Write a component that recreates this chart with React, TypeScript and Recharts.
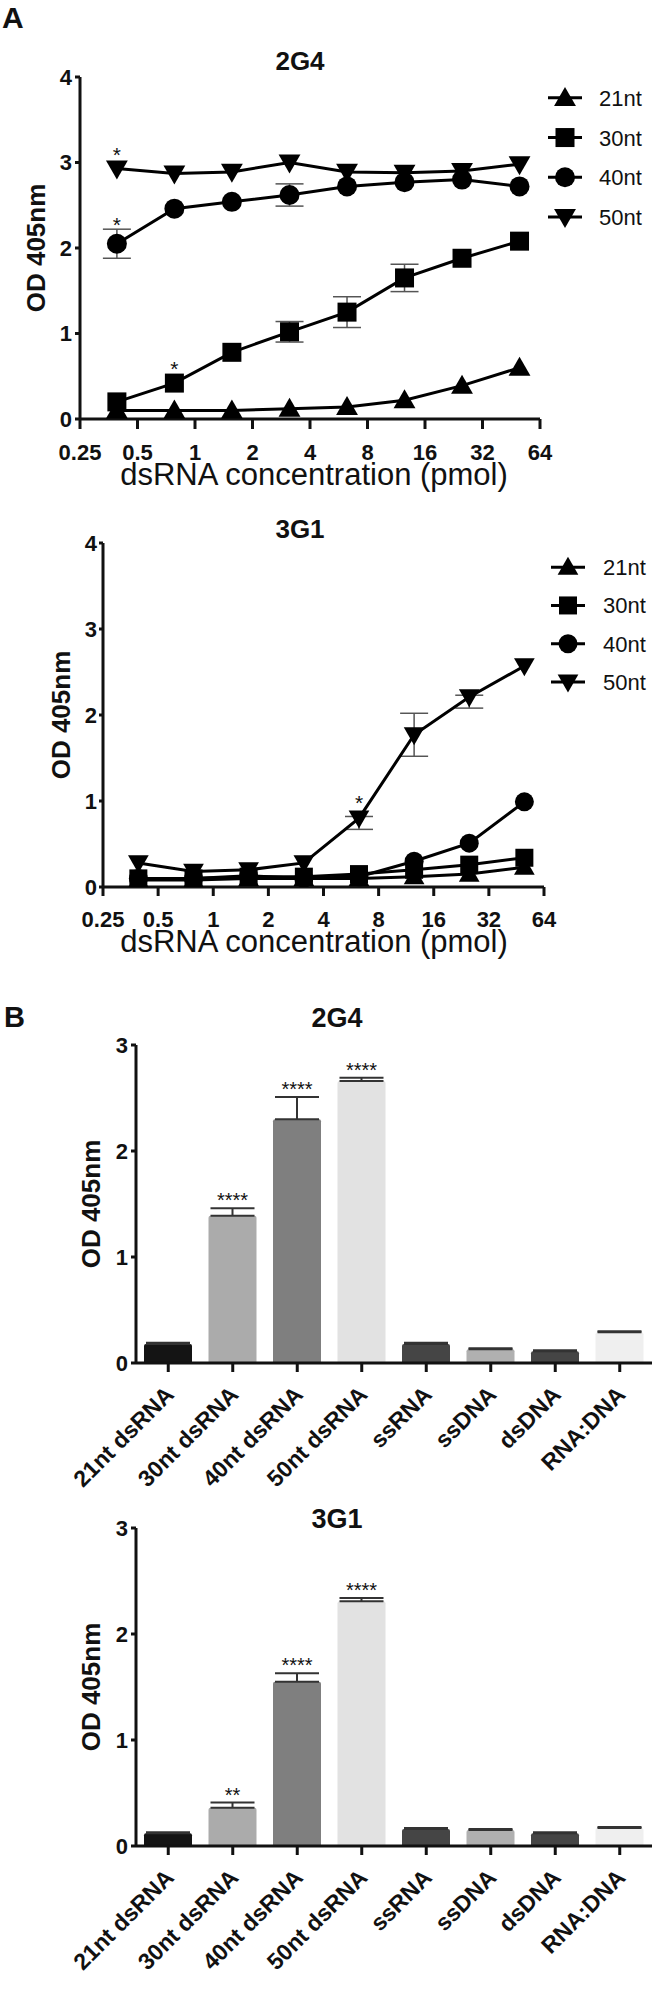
import React from 'react';
import { LineChart, Line, XAxis, YAxis, ErrorBar, LabelList, BarChart, Bar, Cell } from 'recharts';

const FONT = "'Liberation Sans', Arial, Helvetica, sans-serif";
const INK = '#111';

// ---------- Panel A data ----------
const concentrations = [0.39, 0.78, 1.56, 3.125, 6.25, 12.5, 25, 50];
const concTicks = [0.25, 0.5, 1, 2, 4, 8, 16, 32, 64];
const odTicksA = [0, 1, 2, 3, 4];
const seriesNames = ['21nt', '30nt', '40nt', '50nt'];

// 2G4
const g4_21 = [0.1, 0.1, 0.1, 0.12, 0.14, 0.22, 0.39, 0.6];
const g4_30 = [0.2, 0.42, 0.78, 1.02, 1.25, 1.65, 1.88, 2.08];
const g4_40 = [2.05, 2.46, 2.54, 2.62, 2.72, 2.77, 2.8, 2.72];
const g4_50 = [2.93, 2.87, 2.89, 3.0, 2.89, 2.88, 2.9, 2.98];
const g4_21err = [0, 0, 0, 0, 0, 0, 0, 0];
const g4_30err = [0, 0, 0, 0.12, 0.18, 0.16, 0, 0];
const g4_40err = [0.17, 0, 0, 0.13, 0, 0, 0, 0];
const g4_50err = [0, 0, 0, 0, 0, 0, 0, 0];
const g4_21sig = ['', '', '', '', '', '', '', ''];
const g4_30sig = ['', '*', '', '', '', '', '', ''];
const g4_40sig = ['*', '', '', '', '', '', '', ''];
const g4_50sig = ['*', '', '', '', '', '', '', ''];

// 3G1
const g1_21 = [0.08, 0.08, 0.1, 0.1, 0.1, 0.12, 0.15, 0.23];
const g1_30 = [0.1, 0.1, 0.12, 0.12, 0.15, 0.2, 0.26, 0.34];
const g1_40 = [0.1, 0.1, 0.13, 0.1, 0.12, 0.3, 0.51, 0.99];
const g1_50 = [0.28, 0.18, 0.2, 0.28, 0.8, 1.77, 2.21, 2.57];
const g1_21err = [0, 0, 0, 0, 0, 0, 0, 0];
const g1_30err = [0, 0, 0, 0, 0, 0, 0, 0];
const g1_40err = [0, 0, 0, 0, 0, 0, 0, 0];
const g1_50err: (number | number[])[] = [0, 0, 0, 0, [0.13, 0.02], 0.25, [0.13, 0.02], 0];
const g1_21sig = ['', '', '', '', '', '', '', ''];
const g1_30sig = ['', '', '', '', '', '', '', ''];
const g1_40sig = ['', '', '', '', '', '', '', ''];
const g1_50sig = ['', '', '', '', '*', '', '', ''];

// ---------- Panel B data ----------
const nucleicAcids = ['21nt dsRNA', '30nt dsRNA', '40nt dsRNA', '50nt dsRNA', 'ssRNA', 'ssDNA', 'dsDNA', 'RNA:DNA'];
const odTicksB = [0, 1, 2, 3];
const barColors = ['#141414', '#ababab', '#7f7f7f', '#e2e2e2', '#454545', '#b0b0b0', '#454545', '#efefef'];
const b2g4 = [0.18, 1.39, 2.3, 2.66, 0.18, 0.13, 0.11, 0.29];
const b2g4err = [0.01, 0.07, 0.21, 0.03, 0.01, 0.01, 0.01, 0.01];
const b2g4sig = ['', '****', '****', '****', '', '', '', ''];
const b3g1 = [0.12, 0.36, 1.55, 2.31, 0.16, 0.15, 0.12, 0.17];
const b3g1err = [0.01, 0.05, 0.08, 0.03, 0.01, 0.01, 0.01, 0.01];
const b3g1sig = ['', '**', '****', '****', '', '', '', ''];

// ---------- helpers ----------
const KEYS = ['s21', 's30', 's40', 's50'];
const SHAPES = ['up', 'square', 'circle', 'down'];
const DRAW_ORDER = [0, 2, 3, 1];

function buildLineRows(vals: number[][], errs: any[][], sigs: string[][]) {
  return concentrations.map((x, i) => {
    const r: any = { x };
    KEYS.forEach((k, j) => {
      r[k] = vals[j][i];
      const e = errs[j][i];
      r['e' + k] = e === 0 ? undefined : e;
      r['k' + k] = sigs[j][i];
    });
    return r;
  });
}

function buildBarRows(vals: number[], errs: number[], sigs: string[]) {
  return nucleicAcids.map((c, i) => ({ cat: c, v: vals[i], err: [0, errs[i]], sig: sigs[i] }));
}

const rows2G4 = buildLineRows([g4_21, g4_30, g4_40, g4_50], [g4_21err, g4_30err, g4_40err, g4_50err], [g4_21sig, g4_30sig, g4_40sig, g4_50sig]);
const rows3G1 = buildLineRows([g1_21, g1_30, g1_40, g1_50], [g1_21err, g1_30err, g1_40err, g1_50err], [g1_21sig, g1_30sig, g1_40sig, g1_50sig]);
const bars2G4 = buildBarRows(b2g4, b2g4err, b2g4sig);
const bars3G1 = buildBarRows(b3g1, b3g1err, b3g1sig);

function Marker({ shape, cx, cy, s }: any) {
  if (cx == null || cy == null || isNaN(cx) || isNaN(cy)) return null;
  const h = s / 2;
  if (shape === 'up')
    return <polygon points={`${cx},${cy - h * 1.15} ${cx - h * 1.15},${cy + h * 0.85} ${cx + h * 1.15},${cy + h * 0.85}`} fill="#000" />;
  if (shape === 'square') return <rect x={cx - h} y={cy - h} width={s} height={s} fill="#000" />;
  if (shape === 'circle') return <circle cx={cx} cy={cy} r={h + 0.5} fill="#000" />;
  return <polygon points={`${cx - h * 1.15},${cy - h * 0.85} ${cx + h * 1.15},${cy - h * 0.85} ${cx},${cy + h * 1.15}`} fill="#000" />;
}

const lineStar = (lift: number) => (p: any) => {
  if (!p.value) return null;
  const vb = p.viewBox || {};
  const x = vb.x ?? p.x;
  const y = vb.y ?? p.y;
  return (
    <text x={x} y={y - lift} textAnchor="middle" fontSize={21} fontFamily={FONT} fill={INK}>
      {p.value}
    </text>
  );
};

const barStars = (vals: number[], errs: number[]) => (p: any) => {
  if (!p.value) return null;
  const vb = p.viewBox || p;
  const i = p.index;
  const h = Math.abs(vb.height);
  const top = Math.min(vb.y, vb.y + vb.height);
  const pxPerUnit = h / vals[i];
  const errTop = top - errs[i] * pxPerUnit;
  return (
    <text x={vb.x + vb.width / 2} y={errTop - 1} textAnchor="middle" fontSize={20} fontFamily={FONT} fill={INK}>
      {p.value}
    </text>
  );
};

const yTitle = (bx: number, size: number) => (p: any) => {
  const vb = p.viewBox;
  const cy = vb.y + vb.height / 2;
  return (
    <text x={bx} y={cy} transform={`rotate(-90, ${bx}, ${cy})`} textAnchor="middle" fontSize={size} fontWeight={700} fontFamily={FONT} fill={INK}>
      OD 405nm
    </text>
  );
};

const xTitle = (cx: number, baseline: number) => () => (
  <text x={cx} y={baseline} textAnchor="middle" fontSize={31} fontFamily={FONT} fill={INK}>
    dsRNA concentration (pmol)
  </text>
);

const axisStroke = { stroke: INK, strokeWidth: 3 };
const tickFont = { fontSize: 22, fontWeight: 700, fill: INK, fontFamily: FONT };

function DoseChart(props: any) {
  const { top, height, rows, plotTop, yAxisW, rightMargin, xAxisH, tickMarginX, tickSizeX, tickSizeY, tickMarginY, yTitleX, xTitleBaseline, markerSize, lifts } = props;
  return (
    <div style={{ position: 'absolute', left: 0, top }}>
      <LineChart width={668} height={height} data={rows} margin={{ top: plotTop, right: rightMargin, bottom: 0, left: 0 }}>
        <XAxis
          dataKey="x"
          type="number"
          scale="log"
          domain={[0.25, 64]}
          ticks={concTicks}
          allowDataOverflow
          height={xAxisH}
          tick={tickFont}
          tickSize={tickSizeX}
          tickMargin={tickMarginX}
          axisLine={axisStroke}
          tickLine={axisStroke}
          tickFormatter={(v: number) => String(v)}
          interval={0}
          label={xTitle(314, xTitleBaseline)}
        />
        <YAxis
          type="number"
          domain={[0, 4]}
          ticks={odTicksA}
          width={yAxisW}
          tick={tickFont}
          tickSize={tickSizeY}
          tickMargin={tickMarginY}
          axisLine={axisStroke}
          tickLine={axisStroke}
          allowDataOverflow
          label={yTitle(yTitleX, 26)}
        />
        {DRAW_ORDER.map((j) => (
          <Line
            key={KEYS[j]}
            dataKey={KEYS[j]}
            name={seriesNames[j]}
            type="linear"
            stroke="#000"
            strokeWidth={3}
            isAnimationActive={false}
            dot={(p: any) => <Marker key={`${KEYS[j]}-${p.index}`} shape={SHAPES[j]} cx={p.cx} cy={p.cy} s={markerSize} />}
            activeDot={false}
          >
            <ErrorBar dataKey={'e' + KEYS[j]} direction="y" width={14} stroke="#555" strokeWidth={1.5} />
            <LabelList dataKey={'k' + KEYS[j]} content={lineStar(lifts[j])} />
          </Line>
        ))}
      </LineChart>
    </div>
  );
}

function SeriesLegend({ left, top, gap, textX, size }: any) {
  return (
    <svg style={{ position: 'absolute', left, top }} width={120} height={gap * 4}>
      {seriesNames.map((n, i) => {
        const cy = gap / 2 + i * gap;
        return (
          <g key={n}>
            <line x1={3} x2={37} y1={cy} y2={cy} stroke="#000" strokeWidth={3} />
            <Marker shape={SHAPES[i]} cx={20} cy={cy} s={size} />
            <text x={textX} y={cy + 8} fontSize={22} fontFamily={FONT} fill={INK}>
              {n}
            </text>
          </g>
        );
      })}
    </svg>
  );
}

const RotTick = (p: any) => {
  const x = p.x + 7;
  const y = p.y + 22;
  return (
    <text x={x} y={y} textAnchor="end" transform={`rotate(-45, ${x}, ${y})`} fontSize={23} fontWeight={700} fontFamily={FONT} fill={INK}>
      {p.payload.value}
    </text>
  );
};

function SpecChart({ top, height, rows, vals, errs, plotTop, xAxisH }: any) {
  return (
    <div style={{ position: 'absolute', left: 0, top }}>
      <BarChart width={668} height={height} data={rows} margin={{ top: plotTop, right: 16, bottom: 0, left: 0 }}>
        <XAxis
          dataKey="cat"
          type="category"
          height={xAxisH}
          interval={0}
          tick={<RotTick />}
          tickSize={9}
          tickMargin={2}
          axisLine={axisStroke}
          tickLine={axisStroke}
        />
        <YAxis
          type="number"
          domain={[0, 3]}
          ticks={odTicksB}
          width={136}
          tick={tickFont}
          tickSize={5}
          tickMargin={3}
          axisLine={axisStroke}
          tickLine={axisStroke}
          allowDataOverflow
          label={yTitle(100, 26)}
        />
        <Bar dataKey="v" barSize={48} isAnimationActive={false} radius={[2, 2, 0, 0]}>
          {rows.map((r: any, i: number) => (
            <Cell key={r.cat} fill={barColors[i]} />
          ))}
          <ErrorBar dataKey="err" direction="y" width={22} stroke="#333" strokeWidth={2} />
          <LabelList dataKey="sig" content={barStars(vals, errs)} />
        </Bar>
      </BarChart>
    </div>
  );
}

function Texts() {
  const bold = { fontFamily: FONT, fontWeight: 700, fill: INK } as any;
  return (
    <svg style={{ position: 'absolute', left: 0, top: 0 }} width={668} height={1998}>
      <text x={2} y={28} fontSize={30} {...bold}>A</text>
      <text x={300} y={70} fontSize={26} textAnchor="middle" {...bold}>2G4</text>
      <text x={300} y={538} fontSize={26} textAnchor="middle" {...bold}>3G1</text>
      <text x={4} y={1027} fontSize={29} {...bold}>B</text>
      <text x={337} y={1027} fontSize={27} textAnchor="middle" {...bold}>2G4</text>
      <text x={337} y={1528} fontSize={27} textAnchor="middle" {...bold}>3G1</text>
    </svg>
  );
}

export default function App() {
  return (
    <div style={{ position: 'absolute', left: 0, top: 0, width: 668, height: 1998, background: '#fff', overflow: 'hidden' }}>
      <Texts />
      <DoseChart
        top={0}
        height={500}
        rows={rows2G4}
        plotTop={77}
        yAxisW={80}
        rightMargin={128}
        xAxisH={81}
        tickSizeX={10}
        tickMarginX={15}
        tickSizeY={5}
        tickMarginY={3}
        yTitleX={45}
        xTitleBaseline={485}
        markerSize={19}
        lifts={[6, 7, 12, 6]}
      />
      <SeriesLegend left={545} top={78} gap={39.7} textX={54} size={19} />
      <DoseChart
        top={500}
        height={480}
        rows={rows3G1}
        plotTop={43}
        yAxisW={103}
        rightMargin={124}
        xAxisH={93}
        tickSizeX={9}
        tickMarginX={15}
        tickSizeY={4}
        tickMarginY={2}
        yTitleX={70}
        xTitleBaseline={452}
        markerSize={18}
        lifts={[6, 7, 8, 8]}
      />
      <SeriesLegend left={548} top={548} gap={38.3} textX={55} size={18} />
      <SpecChart top={1000} height={500} rows={bars2G4} vals={b2g4} errs={b2g4err} plotTop={45} xAxisH={137} />
      <SpecChart top={1500} height={498} rows={bars3G1} vals={b3g1} errs={b3g1err} plotTop={28} xAxisH={152} />
    </div>
  );
}
